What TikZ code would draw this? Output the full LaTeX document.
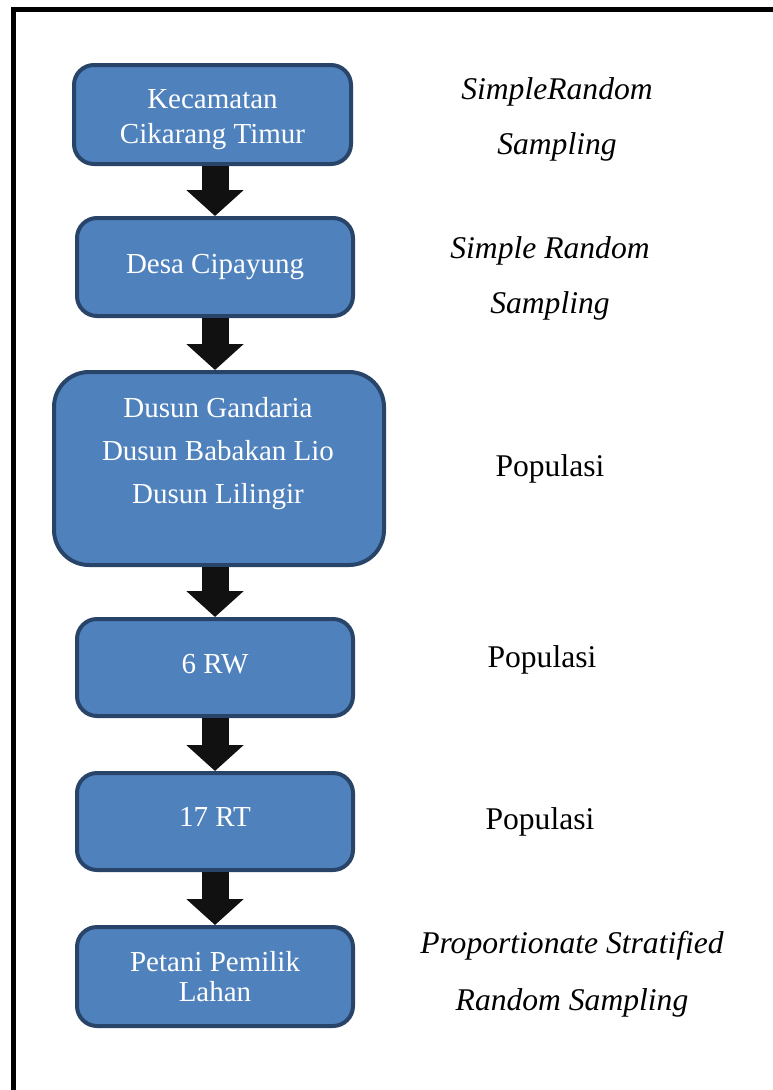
\documentclass[tikz,border=0pt]{standalone}
\usepackage{fontspec}
\setmainfont{Liberation Serif}
\usetikzlibrary{arrows.meta}
\definecolor{boxfill}{RGB}{79,129,189}
\definecolor{boxline}{RGB}{40,68,104}
\definecolor{arrowfill}{RGB}{17,17,17}
\begin{document}
\begin{tikzpicture}[x=1pt,y=-1pt,
  box/.style={draw=boxline, fill=boxfill, line width=4pt, rounded corners=20pt,
    text=white, align=center, inner sep=0pt, font=\fontsize{29}{35}\selectfont},
  boxtext/.style={text=white, align=center, inner sep=0pt},
  side/.style={align=center, inner sep=0pt, font=\fontsize{31.6}{55}\selectfont\itshape},
  pop/.style={inner sep=0pt, font=\fontsize{31.6}{38}\selectfont},
  flow/.style={line width=27pt, draw=arrowfill, -{Triangle[width=56pt,length=26pt]}},
  frame/.style={line width=5pt, draw=black}]
\useasboundingbox (0,0) rectangle (773,1090);
% frame
\draw[frame] (773,9.5) -- (13.5,9.5) -- (13.5,1090);
% boxes
\node[box, minimum width=277pt, minimum height=99pt] (b1) at (212.5,114.5) {\rule{0pt}{30pt}Kecamatan\\Cikarang Timur};
\node[box, minimum width=276pt, minimum height=98pt] (b2) at (215,267) {Desa Cipayung};
\node[box, minimum width=330pt, minimum height=193pt, rounded corners=35pt] (b3) at (219,468.5) {};
\node[boxtext, font=\fontsize{29}{43}\selectfont] (t3) at (218,454) {Dusun Gandaria\\Dusun Babakan Lio\\Dusun Lilingir};
\node[box, minimum width=276pt, minimum height=97pt] (b4) at (215,667.5) {6 RW\rule[-8pt]{0pt}{8pt}};
\node[box, minimum width=276pt, minimum height=97pt] (b5) at (215,821.5) {17 RT\rule[-10pt]{0pt}{10pt}};
\node[box, minimum width=276pt, minimum height=99pt, font=\fontsize{29}{30}\selectfont] (b6) at (215,976.5) {Petani Pemilik\\Lahan};
% arrows
\draw[flow] (b2.north |- b1.south) -- (b2.north);
\draw[flow] (b2.south) -- (b3.north -| b2.south);
\draw[flow] (b4.north |- b3.south) -- (b4.north);
\draw[flow] (b4.south) -- (b5.north);
\draw[flow] (b5.south) -- (b6.north);
% side labels
\node[side] (s1) at (557,119) {SimpleRandom\\Sampling};
\node[side] (s2) at (550,278) {Simple Random\\Sampling};
\node[pop] (s3) at (550,469) {Populasi};
\node[pop] (s4) at (542,660) {Populasi};
\node[pop] (s5) at (540,822) {Populasi};
\node[side, font=\fontsize{31.6}{57}\selectfont\itshape] (s6) at (572,974) {Proportionate Stratified\\Random Sampling};
\end{tikzpicture}
\end{document}
